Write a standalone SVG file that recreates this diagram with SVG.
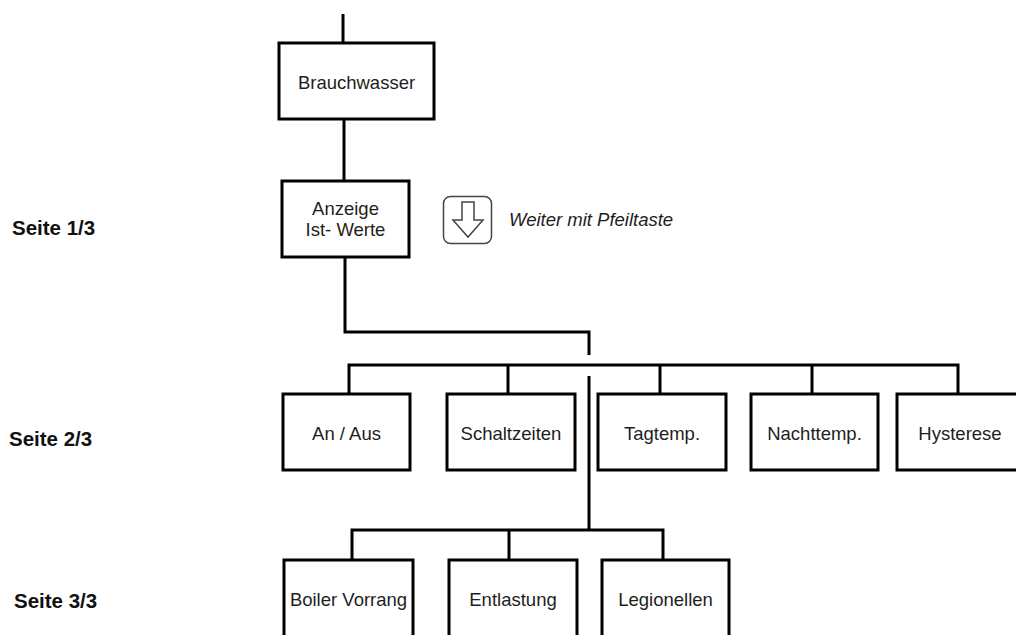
<svg xmlns="http://www.w3.org/2000/svg" width="1016" height="635" viewBox="0 0 1016 635">
<style>
.box{fill:#fff;stroke:#000;stroke-width:3}
.ln{fill:none;stroke:#000;stroke-width:3;stroke-linejoin:miter;stroke-linecap:butt}
.t{font-family:"Liberation Sans",Arial,sans-serif;font-size:18.5px;fill:#1e1e1e;text-anchor:middle}
.s{font-family:"Liberation Sans",Arial,sans-serif;font-size:20.5px;font-weight:bold;fill:#111}
.i{font-family:"Liberation Sans",Arial,sans-serif;font-size:18.5px;font-style:italic;fill:#1e1e1e}
</style>
<rect width="1016" height="635" fill="#fff"/>
<g id="connectors">
<path class="ln" d="M343,14 V43"/>
<path class="ln" d="M344,119 V181"/>
<path class="ln" d="M345,257 V332 H589 V355"/>
<path class="ln" d="M349,394 V365 H958 V394"/>
<path class="ln" d="M508,365 V394"/>
<path class="ln" d="M660,365 V394"/>
<path class="ln" d="M812,365 V394"/>
<path class="ln" d="M589,376 V530"/>
<path class="ln" d="M352,560 V530 H663 V560"/>
<path class="ln" d="M509,530 V560"/>
</g>
<g id="n-brauchwasser"><rect class="box" x="279" y="43" width="155" height="76"/><text class="t" x="356.5" y="89">Brauchwasser</text></g>
<g id="n-anzeige"><rect class="box" x="282" y="181" width="127" height="76"/><text class="t" x="345.5" y="215">Anzeige</text><text class="t" x="345.5" y="236">Ist- Werte</text></g>
<g id="n-taste"><rect x="443.5" y="196.5" width="48" height="47" rx="7" fill="#fff" stroke="#444" stroke-width="1.5"/><path d="M462,202 H474 V220 H483 L468,237 L453,220 H462 Z" fill="none" stroke="#444" stroke-width="1.5" stroke-linejoin="miter"/></g>
<g id="l-weiter"><text class="i" x="509" y="226">Weiter mit Pfeiltaste</text></g>
<g id="n-anaus"><rect class="box" x="283" y="394" width="127" height="76"/><text class="t" x="346.5" y="440">An / Aus</text></g>
<g id="n-schaltzeiten"><rect class="box" x="447" y="394" width="128" height="76"/><text class="t" x="511" y="440">Schaltzeiten</text></g>
<g id="n-tagtemp"><rect class="box" x="598" y="394" width="128" height="76"/><text class="t" x="662" y="440">Tagtemp.</text></g>
<g id="n-nachttemp"><rect class="box" x="751" y="394" width="127" height="76"/><text class="t" x="814.5" y="440">Nachttemp.</text></g>
<g id="n-hysterese"><rect class="box" x="897" y="394" width="130" height="76"/><text class="t" x="960" y="440">Hysterese</text></g>
<g id="n-boiler"><rect class="box" x="284" y="560" width="129" height="90"/><text class="t" x="348.5" y="606">Boiler Vorrang</text></g>
<g id="n-entlastung"><rect class="box" x="449" y="560" width="128" height="90"/><text class="t" x="513" y="606">Entlastung</text></g>
<g id="n-legionellen"><rect class="box" x="602" y="560" width="127" height="90"/><text class="t" x="665.5" y="606">Legionellen</text></g>
<g id="l-seite1"><text class="s" x="12" y="235">Seite 1/3</text></g>
<g id="l-seite2"><text class="s" x="9" y="446">Seite 2/3</text></g>
<g id="l-seite3"><text class="s" x="14" y="608">Seite 3/3</text></g>
</svg>
